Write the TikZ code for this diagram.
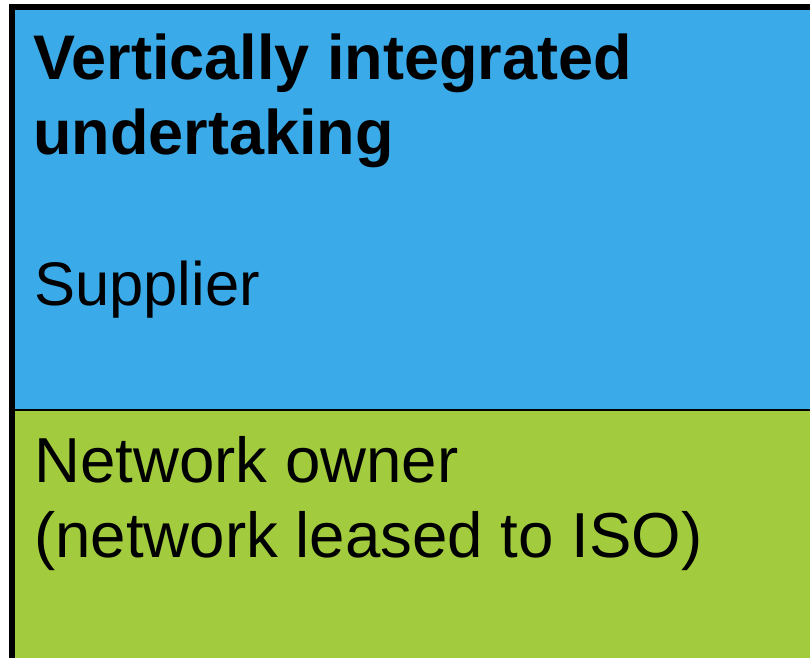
\documentclass[tikz,border=0pt]{standalone}
\usepackage{fontspec}
\setmainfont{Liberation Sans}
\definecolor{vblue}{RGB}{59,170,233}
\definecolor{vgreen}{RGB}{162,204,62}
\begin{document}
\begin{tikzpicture}[x=1pt,y=1pt,
  lbl/.style={anchor=base west,inner sep=0pt,font=\fontsize{63.6}{75}\selectfont},
  lblb/.style={lbl,font=\fontsize{63}{75}\selectfont\bfseries}]
\useasboundingbox (0,0) rectangle (810,657);
\begin{scope}
\clip (0,0) rectangle (810,657);
\fill[vblue] (12,247) rectangle (830,650);
\fill[vgreen] (12,-20) rectangle (830,247);
\draw[line width=2.5pt] (12,247) -- (830,247);
\draw[line width=6pt] (12,-20) -- (12,650) -- (830,650);
\end{scope}
\node[lblb] (t1) at (33,577) {Vertically integrated};
\node[lblb] (t2) at (33,502) {undertaking};
\node[lbl,font=\fontsize{61.5}{75}\selectfont] (s) at (34,352) {Supplier};
\node[lbl] (n1) at (34,175) {Network owner};
\node[lbl] (n2) at (34,100) {(network leased to ISO)};
\end{tikzpicture}
\end{document}
